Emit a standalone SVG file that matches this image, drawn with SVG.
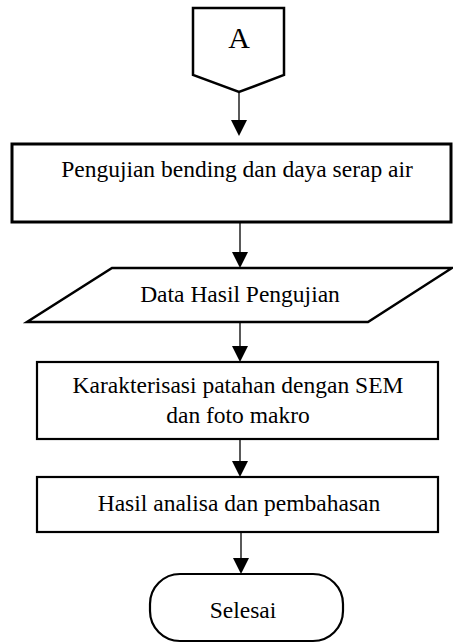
<svg xmlns="http://www.w3.org/2000/svg" width="453" height="643" viewBox="0 0 453 643">
<style>
.n{fill:#fff;stroke:#000;stroke-linejoin:miter}
.t{font-family:"Liberation Serif","Times New Roman",serif;font-size:23.5px;fill:#000;text-anchor:middle}
.c{stroke:#000;stroke-width:1.3;fill:none}
.h{fill:#000}
</style>
<rect width="453" height="643" fill="#fff"/>
<g id="connectors">
<line class="c" x1="239" y1="92" x2="239" y2="122"/><polygon class="h" points="231,120 247,120 239,136"/>
<line class="c" x1="240" y1="222" x2="240" y2="254"/><polygon class="h" points="232,252 248,252 240,268"/>
<line class="c" x1="240" y1="322" x2="240" y2="348"/><polygon class="h" points="232,346 248,346 240,362"/>
<line class="c" x1="240" y1="439" x2="240" y2="463"/><polygon class="h" points="232,461 248,461 240,477"/>
<line class="c" x1="241" y1="532" x2="241" y2="560"/><polygon class="h" points="233,558 249,558 241,574"/>
</g>
<g id="nodeA">
<polygon class="n" stroke-width="2.5" points="193,8 284,8 284,75 239,92 193,75"/>
<text class="t" x="239" y="48" style="font-size:30px">A</text>
</g>
<g id="node1">
<rect class="n" stroke-width="3" x="12" y="144" width="439" height="78"/>
<text class="t" x="237" y="177">Pengujian bending dan daya serap air</text>
</g>
<g id="node2">
<polygon class="n" stroke-width="2.5" points="112,268 452,268 368,322 27,322"/>
<text class="t" x="240" y="302">Data Hasil Pengujian</text>
</g>
<g id="node3">
<rect class="n" stroke-width="2.2" x="37" y="362" width="401" height="77"/>
<text class="t" x="238" y="393">Karakterisasi patahan dengan SEM</text>
<text class="t" x="238" y="423">dan foto makro</text>
</g>
<g id="node4">
<rect class="n" stroke-width="2.2" x="37" y="477" width="401" height="55"/>
<text class="t" x="239" y="511">Hasil analisa dan pembahasan</text>
</g>
<g id="node5">
<rect class="n" stroke-width="2.2" x="150" y="574" width="193" height="67" rx="30" ry="30"/>
<text class="t" x="243" y="618">Selesai</text>
</g>
</svg>
